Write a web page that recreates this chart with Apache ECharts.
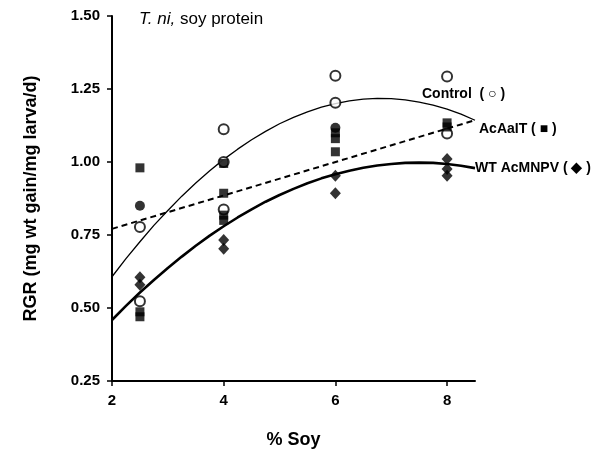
<!DOCTYPE html>
<html>
<head>
    <meta charset="utf-8">
    <title>T. ni soy protein RGR</title>
    <script src="https://cdn.jsdelivr.net/npm/echarts@6/dist/echarts.min.js"></script>
    <style>
        html, body { margin: 0; padding: 0; background: #fff; }
        #chart { width: 609px; height: 454px; }
    </style>
</head>
<body>
<div id="chart"></div>
<script>
    // x ticks
    var xTicks = [2, 4, 6, 8];
    var yTicks = [0.25, 0.5, 0.75, 1.0, 1.25, 1.5];

    // observed points [% soy, RGR]
    var controlPts = [[2.5, 0.777], [2.5, 0.523], [4, 1.112], [4, 1.0], [4, 0.837],
        [6, 1.295], [6, 1.203], [8, 1.293], [8, 1.098]];
    var aaitPts = [[2.5, 0.98], [2.5, 0.487], [2.5, 0.47], [4, 0.995], [4, 0.893], [4, 0.818], [4, 0.80],
        [6, 1.10], [6, 1.08], [6, 1.035], [8, 1.134], [8, 1.12]];
    var filledPts = [[2.5, 0.85], [6, 1.117]];
    var wtPts = [[2.5, 0.605], [2.5, 0.58], [4, 0.733], [4, 0.703],
        [6, 0.953], [6, 0.893], [8, 1.01], [8, 0.976], [8, 0.953]];

    // fitted curves
    var curveX = [2, 2.25, 2.5, 2.75, 3, 3.25, 3.5, 3.75, 4, 4.25, 4.5, 4.75, 5, 5.25, 5.5, 5.75,
        6, 6.25, 6.5, 6.75, 7, 7.25, 7.5, 7.75, 8, 8.25, 8.5];
    var controlFit = [0.607, 0.669, 0.727, 0.783, 0.834, 0.883, 0.928, 0.970, 1.009, 1.044, 1.076, 1.105,
        1.131, 1.153, 1.172, 1.188, 1.200, 1.209, 1.215, 1.218, 1.217, 1.213, 1.205, 1.195, 1.181, 1.164, 1.143];
    var wtFit = [0.459, 0.507, 0.553, 0.596, 0.637, 0.676, 0.713, 0.748, 0.780, 0.810, 0.838, 0.864,
        0.887, 0.908, 0.927, 0.944, 0.958, 0.970, 0.980, 0.988, 0.993, 0.997, 0.998, 0.997, 0.993, 0.987, 0.979];
    var aaitFitX = [2, 8.5];
    var aaitFit = [0.771, 1.143];

    function pairs(xs, ys) {
        return xs.map(function (x, i) { return [x, ys[i]]; });
    }

    var font = 'Arial, "Liberation Sans", sans-serif';
    var myChart = echarts.init(document.getElementById('chart'), null, {renderer: 'canvas'});
    var option = {
        backgroundColor: '#fff',
        animation: false,
        grid: {left: 112, right: 134, top: 16, bottom: 72},
        xAxis: {
            type: 'value',
            min: 2, max: 8.5, interval: 2,
            name: '% Soy',
            nameLocation: 'middle',
            nameGap: 50,
            nameTextStyle: {fontFamily: font, fontWeight: 'bold', fontSize: 18, color: '#000'},
            axisLine: {lineStyle: {color: '#000', width: 2}},
            axisTick: {show: true, length: 5, lineStyle: {color: '#000', width: 1.5}},
            axisLabel: {
                margin: 12, fontFamily: font, fontWeight: 'bold', fontSize: 15, color: '#000',
                showMaxLabel: false,
                formatter: function (v) { return xTicks.indexOf(v) >= 0 ? String(v) : ''; }
            },
            splitLine: {show: false}
        },
        yAxis: {
            type: 'value',
            min: 0.25, max: 1.5, interval: 0.25,
            name: 'RGR (mg wt gain/mg larva/d)',
            nameLocation: 'middle',
            nameGap: 72,
            nameTextStyle: {fontFamily: font, fontWeight: 'bold', fontSize: 18, color: '#000'},
            axisLine: {show: true, lineStyle: {color: '#000', width: 2}},
            axisTick: {show: true, length: 5, lineStyle: {color: '#000', width: 1.5}},
            axisLabel: {
                margin: 12, fontFamily: font, fontWeight: 'bold', fontSize: 15, color: '#000',
                formatter: function (v) { return yTicks.indexOf(v) >= 0 ? v.toFixed(2) : ''; }
            },
            splitLine: {show: false}
        },
        graphic: [
            {type: 'text', left: 139, top: 11, style: {
                text: '{i|T. ni,} soy protein',
                rich: {i: {fontStyle: 'italic', fontFamily: font, fontSize: 17, fill: '#000'}},
                font: '17px ' + font, fill: '#000'}},
            {type: 'text', left: 422, top: 87, style: {text: 'Control  ( \u25CB )', font: 'bold 14px ' + font, fill: '#000'}},
            {type: 'text', left: 479, top: 122, style: {text: 'AcAaIT ( \u25A0 )', font: 'bold 14px ' + font, fill: '#000'}},
            {type: 'text', left: 475, top: 161, style: {text: 'WT AcMNPV ( \u25C6 )', font: 'bold 14px ' + font, fill: '#000'}}
        ],
        series: [
            {
                name: 'Control fit', type: 'line', data: pairs(curveX, controlFit), smooth: false,
                showSymbol: false, lineStyle: {color: '#000', width: 1.3, join: 'round'}, z: 2
            },
            {
                name: 'WT fit', type: 'line', data: pairs(curveX, wtFit), smooth: false,
                showSymbol: false, lineStyle: {color: '#000', width: 2.6, join: 'round'}, z: 2
            },
            {
                name: 'AcAaIT fit', type: 'line', data: pairs(aaitFitX, aaitFit),
                showSymbol: false, lineStyle: {color: '#000', width: 2, type: [6, 4]}, z: 2
            },
            {
                name: 'Control', type: 'scatter', data: controlPts, symbol: 'circle', symbolSize: 10,
                itemStyle: {color: '#fff', borderColor: '#000', borderWidth: 2}, z: 4
            },
            {
                name: 'AcAaIT', type: 'scatter', data: aaitPts, symbol: 'rect', symbolSize: 9,
                itemStyle: {color: '#000'}, z: 5
            },
            {
                name: 'filled', type: 'scatter', data: filledPts, symbol: 'circle', symbolSize: 10,
                itemStyle: {color: '#000'}, z: 5
            },
            {
                name: 'WT AcMNPV', type: 'scatter', data: wtPts, symbol: 'diamond', symbolSize: [11, 12],
                itemStyle: {color: '#000'}, z: 5
            }
        ]
    };
    myChart.setOption(option);
</script>
</body>
</html>
